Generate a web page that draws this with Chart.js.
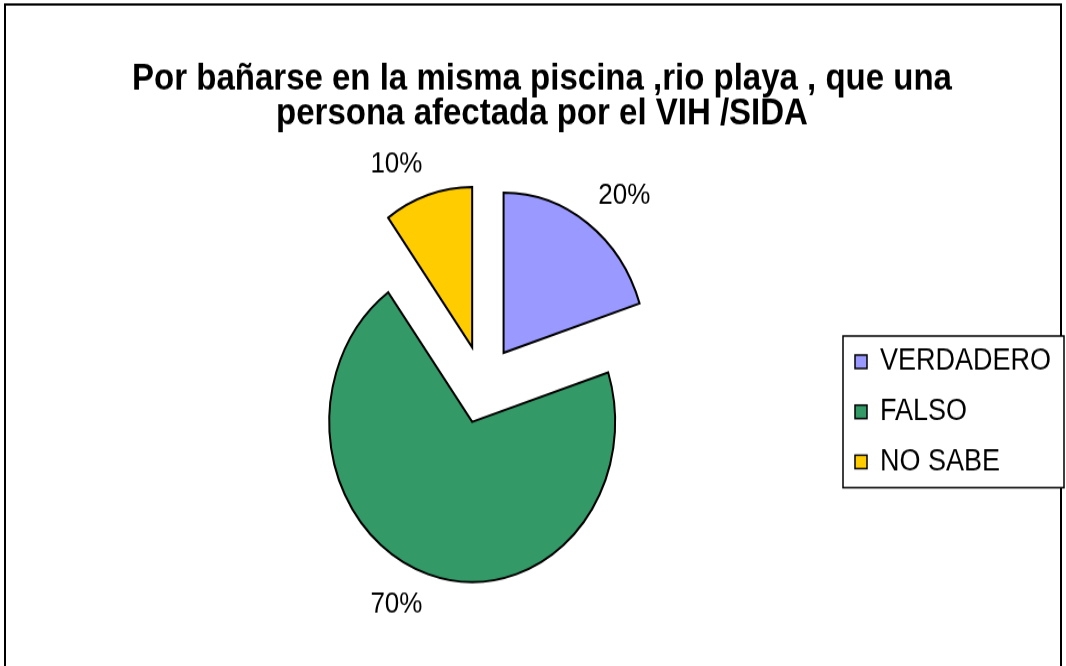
<!DOCTYPE html>
<html>
<head>
<meta charset="utf-8">
<script src="https://cdn.jsdelivr.net/npm/chart.js@4.4.1/dist/chart.umd.min.js"></script>
<style>
    html, body { margin: 0; padding: 0; background: #fff; overflow: hidden; width: 1066px; height: 666px; }
    /* the original picture is stretched vertically, so stretch the canvas the same way */
    #page { width: 1066px; height: 666px; }
    #wrap { width: 1066px; height: 595px; transform: scaleY(1.12); transform-origin: 0 0; }
</style>
</head>
<body>
<div id="page"><div id="wrap"><canvas id="Pie_Chart" width="1066" height="595" style="width:1066px;height:595px"></canvas></div></div>
<script>
const categories = ['VERDADERO', 'FALSO', 'NO SABE'];
const values = [20, 70, 10];
const sliceColors = ['#9999FF', '#339966', '#FFCC00'];
const titleLines = ['Por bañarse en la misma piscina ,rio playa , que una', 'persona afectada por el VIH /SIDA'];

const FONT = '"Liberation Sans", Arial, sans-serif';
const EXPLODE = 35;
const PIE_SHIFT_X = -59;

// white background + outer frame
const framePlugin = {
    id: 'frame',
    beforeDraw(chart) {
        const ctx = chart.ctx;
        ctx.save();
        ctx.fillStyle = '#fff';
        ctx.fillRect(0, 0, chart.width, chart.height);
        ctx.strokeStyle = '#000';
        ctx.lineWidth = 2;
        ctx.strokeRect(5, 4, 1056, chart.height + 20);
        ctx.restore();
    }
};

// pull every slice out from the centre along its middle angle
const explodePlugin = {
    id: 'explode',
    afterDatasetUpdate(chart, args) {
        const meta = chart.getDatasetMeta(args.index);
        meta.data.forEach(arc => {
            const mid = (arc.startAngle + arc.endAngle) / 2;
            arc.x += Math.cos(mid) * EXPLODE + PIE_SHIFT_X;
            arc.y += Math.sin(mid) * EXPLODE;
        });
    }
};

// percentage labels outside the slices
const percentPlugin = {
    id: 'percent',
    afterDatasetsDraw(chart) {
        const ctx = chart.ctx;
        const data = chart.data.datasets[0].data;
        const total = data.reduce((a, b) => a + b, 0);
        ctx.save();
        ctx.font = '26px ' + FONT;
        ctx.fillStyle = '#000';
        ctx.textAlign = 'center';
        ctx.textBaseline = 'middle';
        chart.getDatasetMeta(0).data.forEach((arc, i) => {
            const mid = (arc.startAngle + arc.endAngle) / 2;
            const txt = Math.round(data[i] / total * 100) + '%';
            const w = ctx.measureText(txt).width;
            const h = 20;
            const dist = arc.outerRadius + 18;
            const px = arc.x + Math.cos(mid) * dist;
            const py = arc.y + Math.sin(mid) * dist;
            ctx.fillText(txt, px + Math.sign(Math.cos(mid)) * w / 2, py + Math.sign(Math.sin(mid)) * h / 2);
        });
        ctx.restore();
    }
};

// boxed legend on the right
const legendBox = { left: 843, top: 300, width: 221, firstRow: 23, rowGap: 44.7, square: 12 };
const boxLegendPlugin = {
    id: 'boxLegend',
    afterDraw(chart) {
        const ctx = chart.ctx;
        const colors = chart.data.datasets[0].backgroundColor;
        const height = legendBox.firstRow * 2 + legendBox.rowGap * (chart.data.labels.length - 1);
        ctx.save();
        ctx.fillStyle = '#fff';
        ctx.fillRect(legendBox.left, legendBox.top, legendBox.width, height);
        ctx.strokeStyle = '#000';
        ctx.lineWidth = 1.5;
        ctx.strokeRect(legendBox.left, legendBox.top, legendBox.width, height);
        ctx.font = '27px ' + FONT;
        ctx.textBaseline = 'middle';
        chart.data.labels.forEach((label, i) => {
            const cy = legendBox.top + legendBox.firstRow + i * legendBox.rowGap;
            const sx = legendBox.left + 12;
            ctx.fillStyle = colors[i];
            ctx.fillRect(sx, cy - legendBox.square / 2, legendBox.square, legendBox.square);
            ctx.strokeRect(sx, cy - legendBox.square / 2, legendBox.square, legendBox.square);
            ctx.fillStyle = '#000';
            ctx.fillText(label, sx + legendBox.square + 13, cy);
        });
        ctx.restore();
    }
};

const ctx = document.getElementById('Pie_Chart').getContext('2d');

new Chart(ctx, {
    type: 'pie',
    data: {
        labels: categories,
        datasets: [{
            data: values,
            backgroundColor: sliceColors,
            borderColor: '#000',
            borderWidth: 2,
            borderJoinStyle: 'miter',
            radius: 143
        }]
    },
    options: {
        responsive: false,
        animation: false,
        events: [],
        layout: {
            padding: { top: 0, left: 18, right: 0, bottom: 35 }
        },
        plugins: {
            legend: { display: false },
            tooltip: { enabled: false },
            title: {
                display: true,
                text: titleLines,
                color: '#000',
                font: { family: FONT, size: 33, weight: 'bold', lineHeight: 0.92 },
                padding: { top: 56, bottom: 10 }
            }
        }
    },
    plugins: [framePlugin, explodePlugin, percentPlugin, boxLegendPlugin]
});
</script>
</body>
</html>
